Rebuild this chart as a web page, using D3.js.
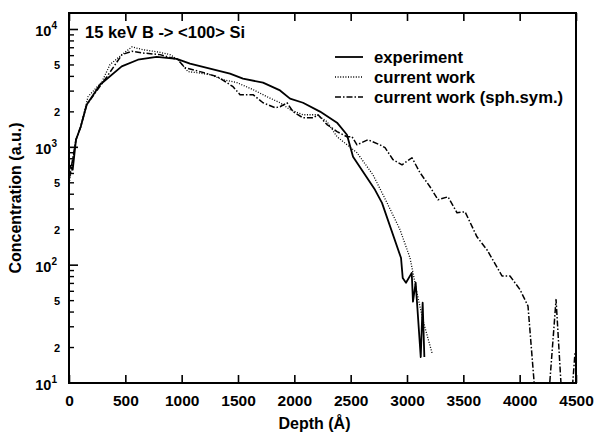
<!DOCTYPE html>
<html>
<head>
<meta charset="utf-8">
<script src="https://cdn.jsdelivr.net/npm/d3@7"></script>
<style>
body { margin: 0; background: #fff; }
text { font-family: "Liberation Sans", Arial, sans-serif; font-weight: bold; fill: #000; }
</style>
</head>
<body>
<div class="chart"></div>
<script>
var svgWidth = 595;
var svgHeight = 438;

var margin = { top: 13, right: 19, bottom: 55, left: 69 };
var chartWidth = svgWidth - margin.left - margin.right;
var chartHeight = svgHeight - margin.top - margin.bottom;

// experiment (solid)
var expDepth = [5, 33, 62, 104, 157, 275, 468, 612, 778, 956, 1074, 1429, 1544, 1722, 1873, 1962, 2077, 2228, 2379, 2467, 2521, 2716, 2778, 2947, 2962, 2991, 3042, 3053, 3077, 3122, 3139, 3154];
var expConc = [700, 646, 1161, 1497, 2300, 3400, 4860, 5540, 5850, 5630, 5130, 4220, 3830, 3540, 3040, 2590, 2390, 2010, 1620, 1280, 832, 436, 338, 115, 78, 71, 86, 49, 71, 16.6, 48, 16.6];

// current work (dotted)
var cwDepth = [5, 62, 104, 169, 293, 364, 470, 559, 657, 808, 896, 967, 1056, 1136, 1252, 1367, 1491, 1633, 1757, 1873, 1962, 2077, 2201, 2290, 2379, 2556, 2698, 2823, 2938, 3027, 3089, 3142, 3222];
var cwConc = [520, 1161, 1497, 2690, 3610, 5040, 6120, 7120, 6740, 6400, 6120, 5550, 4390, 4300, 4140, 3750, 3540, 3090, 2690, 2390, 2090, 1890, 1890, 1650, 1230, 900, 585, 338, 200, 115, 58, 34, 18];

// current work, spherically symmetric (dash-dot)
var ssDepth = [5, 62, 104, 157, 337, 470, 559, 648, 808, 967, 1030, 1163, 1314, 1402, 1456, 1518, 1633, 1722, 1828, 1873, 1935, 1988, 2077, 2166, 2210, 2290, 2379, 2467, 2512, 2556, 2654, 2760, 2805, 2876, 2956, 3044, 3116, 3204, 3275, 3364, 3444, 3515, 3621, 3710, 3843, 3914, 4003, 4074, 4154, 4243, 4323, 4385, 4447, 4491];
var ssConc = [560, 1161, 1497, 2300, 3980, 6120, 6530, 6330, 6120, 5550, 4740, 4390, 3980, 3540, 3270, 2800, 2800, 2390, 2170, 2210, 2390, 2010, 1780, 1780, 1890, 1560, 1360, 1230, 1230, 1050, 1160, 1050, 993, 785, 711, 816, 608, 463, 359, 380, 278, 284, 174, 135, 81, 81, 62, 45, 5, 5, 51, 5, 5, 18];

var xTicks = [0, 500, 1000, 1500, 2000, 2500, 3000, 3500, 4000, 4500];
var yMajor = [10, 100, 1000, 10000];
var yMinorLabels = [2, 5];

var legendNames = ["experiment", "current work", "current work (sph.sym.)"];
var legendDash = ["none", "1,1.6", "6,2,1.5,2"];
var legendWidth = [1.8, 1.3, 1.5];

var svg = d3.select(".chart")
  .append("svg")
  .attr("width", svgWidth)
  .attr("height", svgHeight)
  .append("g")
  .attr("transform", `translate(${margin.left}, ${margin.top})`);

var x = d3.scaleLinear().domain([0, 4500]).range([0, chartWidth]);
var y = d3.scaleLog().domain([10, Math.pow(10, 4.14)]).range([chartHeight, 0]);

svg.append("clipPath").attr("id", "clip")
  .append("rect").attr("width", chartWidth).attr("height", chartHeight);

// x ticks inward at bottom and top
var bottomAxis = d3.axisBottom(x).tickValues(xTicks).tickSize(-8).tickPadding(12).tickFormat(d3.format("d"));
var gx = svg.append("g").attr("transform", `translate(0, ${chartHeight})`).call(bottomAxis);
gx.select(".domain").remove();
gx.selectAll("line").attr("stroke-width", 1.6);
gx.selectAll("text").attr("font-size", 15.5);

var topAxis = d3.axisTop(x).tickValues(xTicks).tickSize(-8).tickFormat("");
var gt = svg.append("g").call(topAxis);
gt.select(".domain").remove();
gt.selectAll("line").attr("stroke-width", 1.6);

// y ticks inward, major and minor
var minorVals = [];
[10, 100, 1000].forEach(function(d) {
  for (var k = 2; k <= 9; k++) minorVals.push(d * k);
});
minorVals.push(20000);

svg.selectAll(".ymin").data(minorVals.filter(function(v) { return v <= y.domain()[1]; }))
  .enter().append("line")
  .attr("x1", 0).attr("x2", 5)
  .attr("y1", function(d) { return y(d); }).attr("y2", function(d) { return y(d); })
  .attr("stroke", "#000").attr("stroke-width", 1.4);

svg.selectAll(".ymaj").data(yMajor)
  .enter().append("line")
  .attr("x1", 0).attr("x2", 9)
  .attr("y1", function(d) { return y(d); }).attr("y2", function(d) { return y(d); })
  .attr("stroke", "#000").attr("stroke-width", 1.6);

var majLab = svg.selectAll(".ymajlab").data(yMajor)
  .enter().append("text")
  .attr("x", -12).attr("y", function(d) { return y(d) + 7; })
  .attr("text-anchor", "end")
  .attr("font-size", 14.5);
majLab.append("tspan").text("10");
majLab.append("tspan").attr("font-size", 10).attr("dy", -7).text(function(d) { return Math.round(Math.log10(d)); });

var minLabVals = [];
[10, 100, 1000].forEach(function(d) {
  yMinorLabels.forEach(function(k) { minLabVals.push({ v: d * k, k: k }); });
});
svg.selectAll(".yminlab").data(minLabVals)
  .enter().append("text")
  .attr("x", -9).attr("y", function(d) { return y(d.v) + 4; })
  .attr("text-anchor", "end")
  .attr("font-size", 11)
  .text(function(d) { return d.k; });

// curves
function drawLine(xs, ys, dash, width) {
  var pts = xs.map(function(d, i) { return [d, ys[i]]; });
  svg.append("path")
    .datum(pts)
    .attr("clip-path", "url(#clip)")
    .attr("fill", "none")
    .attr("stroke", "#000")
    .attr("stroke-width", width)
    .attr("stroke-dasharray", dash)
    .attr("stroke-linejoin", "round")
    .attr("d", d3.line().x(function(d) { return x(d[0]); }).y(function(d) { return y(d[1]); }));
}
drawLine(expDepth, expConc, legendDash[0], legendWidth[0]);
drawLine(cwDepth, cwConc, legendDash[1], legendWidth[1]);
drawLine(ssDepth, ssConc, legendDash[2], legendWidth[2]);

// frame
svg.append("rect")
  .attr("width", chartWidth).attr("height", chartHeight)
  .attr("fill", "none").attr("stroke", "#000").attr("stroke-width", 2);

// title
svg.append("text")
  .attr("x", 16).attr("y", 25)
  .attr("font-size", 16.5)
  .text("15 keV B -> <100> Si");

// legend
var leg = svg.selectAll(".leg").data(legendNames).enter().append("g")
  .attr("transform", function(d, i) { return `translate(266, ${44 + i * 20})`; });
leg.append("line")
  .attr("x1", 0).attr("x2", 28)
  .attr("stroke", "#000")
  .attr("stroke-width", function(d, i) { return legendWidth[i]; })
  .attr("stroke-dasharray", function(d, i) { return legendDash[i]; });
leg.append("text")
  .attr("x", 39).attr("y", 6)
  .attr("font-size", 16.7)
  .text(function(d) { return d; });

// axis titles
svg.append("text")
  .attr("transform", "rotate(-90)")
  .attr("x", -chartHeight / 2).attr("y", -48)
  .attr("text-anchor", "middle")
  .attr("font-size", 16)
  .text("Concentration (a.u.)");

svg.append("text")
  .attr("x", chartWidth / 2 - 8).attr("y", chartHeight + 46)
  .attr("text-anchor", "middle")
  .attr("font-size", 16)
  .text("Depth (Å)");
</script>
</body>
</html>
